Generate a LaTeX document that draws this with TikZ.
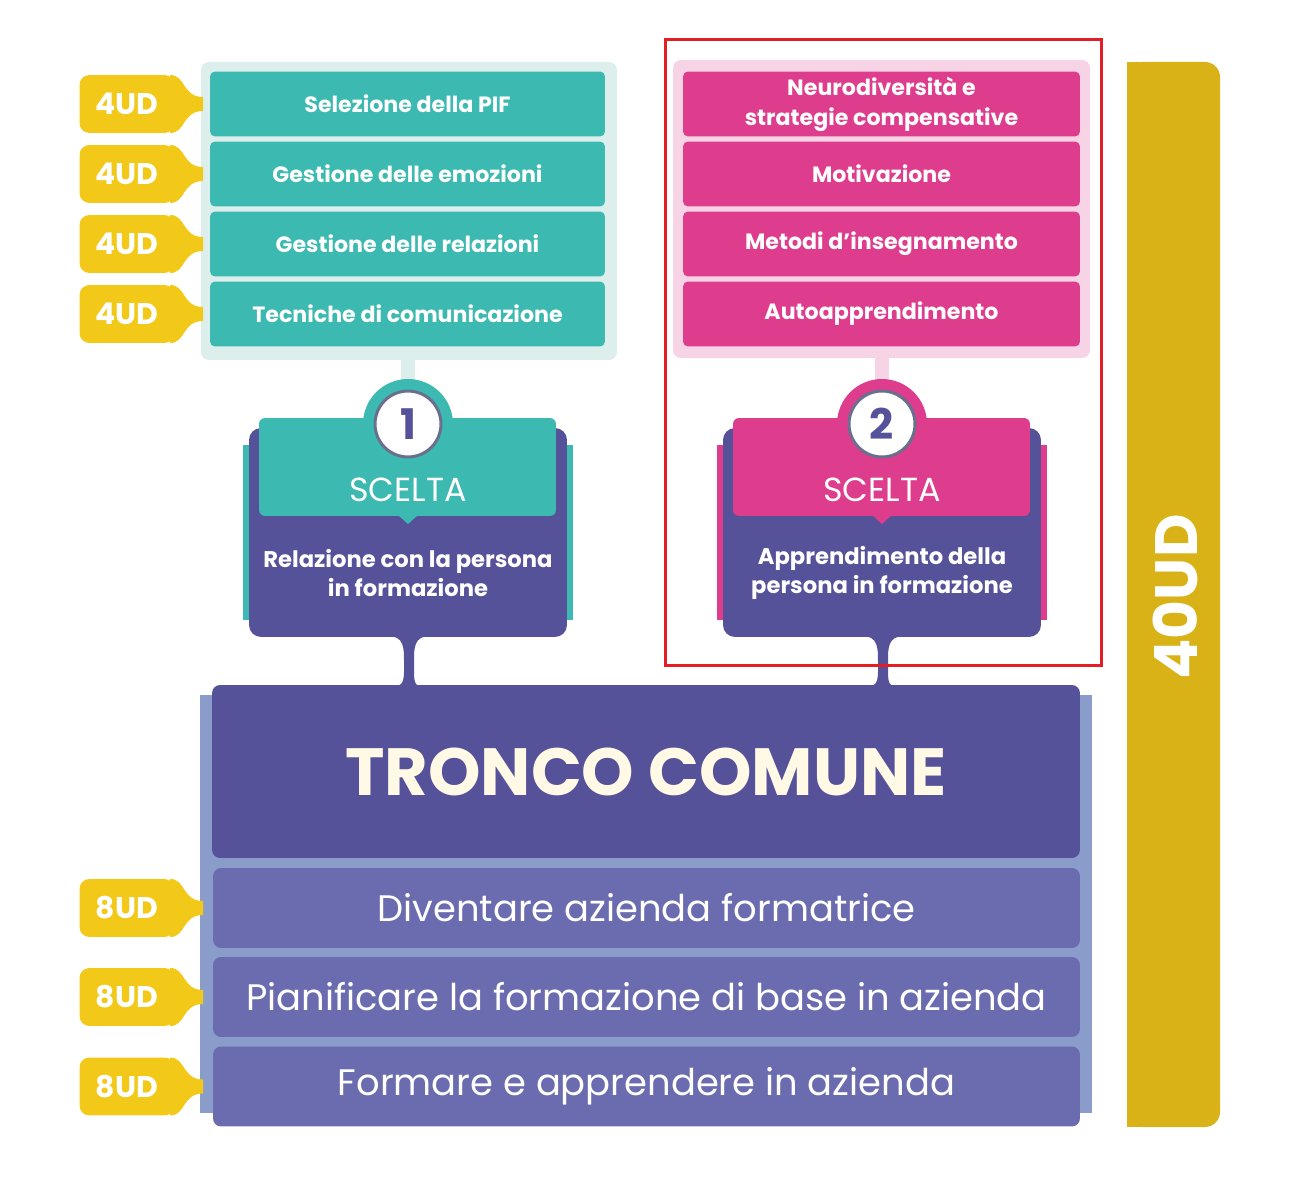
\documentclass[tikz,border=0pt]{standalone}
\usepackage{fontspec}
\setmainfont{Poppins}
\usepackage{xcolor}
\usetikzlibrary{shapes,arrows,positioning}

\definecolor{tealc}{HTML}{3CB9B0}
\definecolor{tealbg}{HTML}{DDEFEC}
\definecolor{magc}{HTML}{DE3D8E}
\definecolor{pinkbg}{HTML}{F6D3E5}
\definecolor{tagc}{HTML}{F2C918}
\definecolor{purc}{HTML}{56529A}
\definecolor{rowc}{HTML}{6B6BB0}
\definecolor{bluebg}{HTML}{8A9CC9}
\definecolor{barc}{HTML}{D9B217}
\definecolor{redc}{HTML}{E31E24}
\definecolor{ringc}{HTML}{6B6F8E}
\definecolor{creamc}{HTML}{FFF9E6}

\tikzset{
  modrow/.style={rounded corners=0.1cm, minimum width=7.9cm, minimum height=1.3cm,
    text=white, font=\bfseries\fontsize{12.6}{17}\selectfont, align=center, inner sep=0pt},
  tagbox/.style={fill=tagc, rounded corners=0.2cm, minimum width=1.9cm, minimum height=1.16cm,
    text=white, font=\bfseries\fontsize{17}{19}\selectfont, inner sep=0pt},
  header/.style={rounded corners=0.12cm, minimum width=5.94cm, minimum height=1.96cm, inner sep=0pt},
  card/.style={fill=purc, rounded corners=0.24cm, minimum width=6.36cm, minimum height=4.18cm, inner sep=0pt},
  cardtxt/.style={text=white, font=\bfseries\fontsize{12.9}{17}\selectfont, align=center},
  baserow/.style={fill=rowc, rounded corners=0.16cm, minimum width=17.34cm, minimum height=1.6cm,
    text=white, font=\fontsize{21}{24}\selectfont, inner sep=0pt}
}

% tag with a curved neck towards the module boxes
\newcommand{\udtag}[3]{%
  \fill[tagc] (170,#2-29) .. controls (186,#2-29) and (182,#2-7) .. (203,#2-7) -- (203,#2+7)
    .. controls (182,#2+7) and (186,#2+29) .. (170,#2+29) -- cycle;
  \node[tagbox] (#1) at (127,#2) {#3};
}

\begin{document}
\begin{tikzpicture}[x=0.02cm, y=-0.02cm]
  \useasboundingbox (0,0) rectangle (1313,1196);

  % 40UD bar
  \fill[barc, rounded corners=0.3cm] (1127,62) rectangle (1220,1127);
  \fill[barc] (1127,62) rectangle (1160,1127);
  \node[rotate=90, text=white, font=\bfseries\fontsize{34}{36}\selectfont] (tot) at (1175,597) {40UD};

  % option 1 modules
  \fill[tealbg, rounded corners=0.16cm] (201,62) rectangle (617,360);
  \foreach \name/\yy/\txt in {a1/104/Selezione della PIF, a2/174/Gestione delle emozioni,
      a3/244/Gestione delle relazioni, a4/314/Tecniche di comunicazione} {
    \node[modrow, fill=tealc] (\name) at (407.5,\yy) {\txt};
    \udtag{t\name}{\yy}{4UD}
  }

  % option 2 modules
  \fill[pinkbg, rounded corners=0.16cm] (673,60) rectangle (1090,358);
  \foreach \name/\yy/\txt in {b1/104/{Neurodiversità e\\strategie compensative},
      b2/174/Motivazione, b3/244/Metodi d’insegnamento, b4/314/Autoapprendimento} {
    \node[modrow, fill=magc, minimum width=7.94cm] (\name) at (881.5,\yy) {\txt};
  }

  % the two choices
  \foreach \cx/\num/\col/\bg/\txt in {408/1/tealc/tealbg/{Relazione con la persona\\in formazione},
      882/2/magc/pinkbg/{Apprendimento della\\persona in formazione}} {
    \fill[\bg] (\cx-7,355) rectangle (\cx+7,386);
    \fill[\col] (\cx-165,445) rectangle (\cx+165,620);
    \node[card] (card\num) at (\cx,532.5) {};
    \fill[\col] (\cx,424) circle (0.9cm);
    \node[header, fill=\col] (head\num) at (\cx-0.5,467) {};
    \fill[\col] (\cx-10,515) -- (\cx+10,515) -- (\cx,524) -- cycle;
    \node[circle, fill=white, draw=ringc, line width=0.06cm, minimum size=1.32cm, inner sep=0pt,
      text=purc, font=\bfseries\fontsize{24}{24}\selectfont] (num\num) at (\cx,424) {\num};
    \node[text=white, font=\fontsize{19}{21}\selectfont] (scelta\num) at (\cx,490) {SCELTA};
    \node[cardtxt] (desc\num) at (\cx,573) {\txt};
    \fill[purc] (\cx-20,636) .. controls (\cx-4,636) and (\cx-4,648) .. (\cx-4,661) -- (\cx-4,672)
      .. controls (\cx-4,684) and (\cx-8,687) .. (\cx-16,687) -- (\cx+16,687)
      .. controls (\cx+8,687) and (\cx+6,684) .. (\cx+6,672) -- (\cx+6,661)
      .. controls (\cx+6,648) and (\cx+6,636) .. (\cx+22,636) -- cycle;
  }

  % red frame
  \draw[redc, line width=0.06cm] (665,40) rectangle (1101,665);

  % common trunk
  \fill[bluebg] (200,695) rectangle (1092,1113);
  \node[fill=purc, rounded corners=0.16cm, minimum width=17.36cm, minimum height=3.46cm,
    text=creamc, font=\bfseries\fontsize{38}{40}\selectfont, inner sep=0pt] (tronco) at (646,771.5) {TRONCO COMUNE};
  \foreach \name/\yy/\txt in {c1/908/Diventare azienda formatrice,
      c2/997/Pianificare la formazione di base in azienda, c3/1086.5/Formare e apprendere in azienda} {
    \node[baserow] (\name) at (646.5,\yy) {\txt};
    \udtag{t\name}{\yy}{8UD}
  }
\end{tikzpicture}
\end{document}
